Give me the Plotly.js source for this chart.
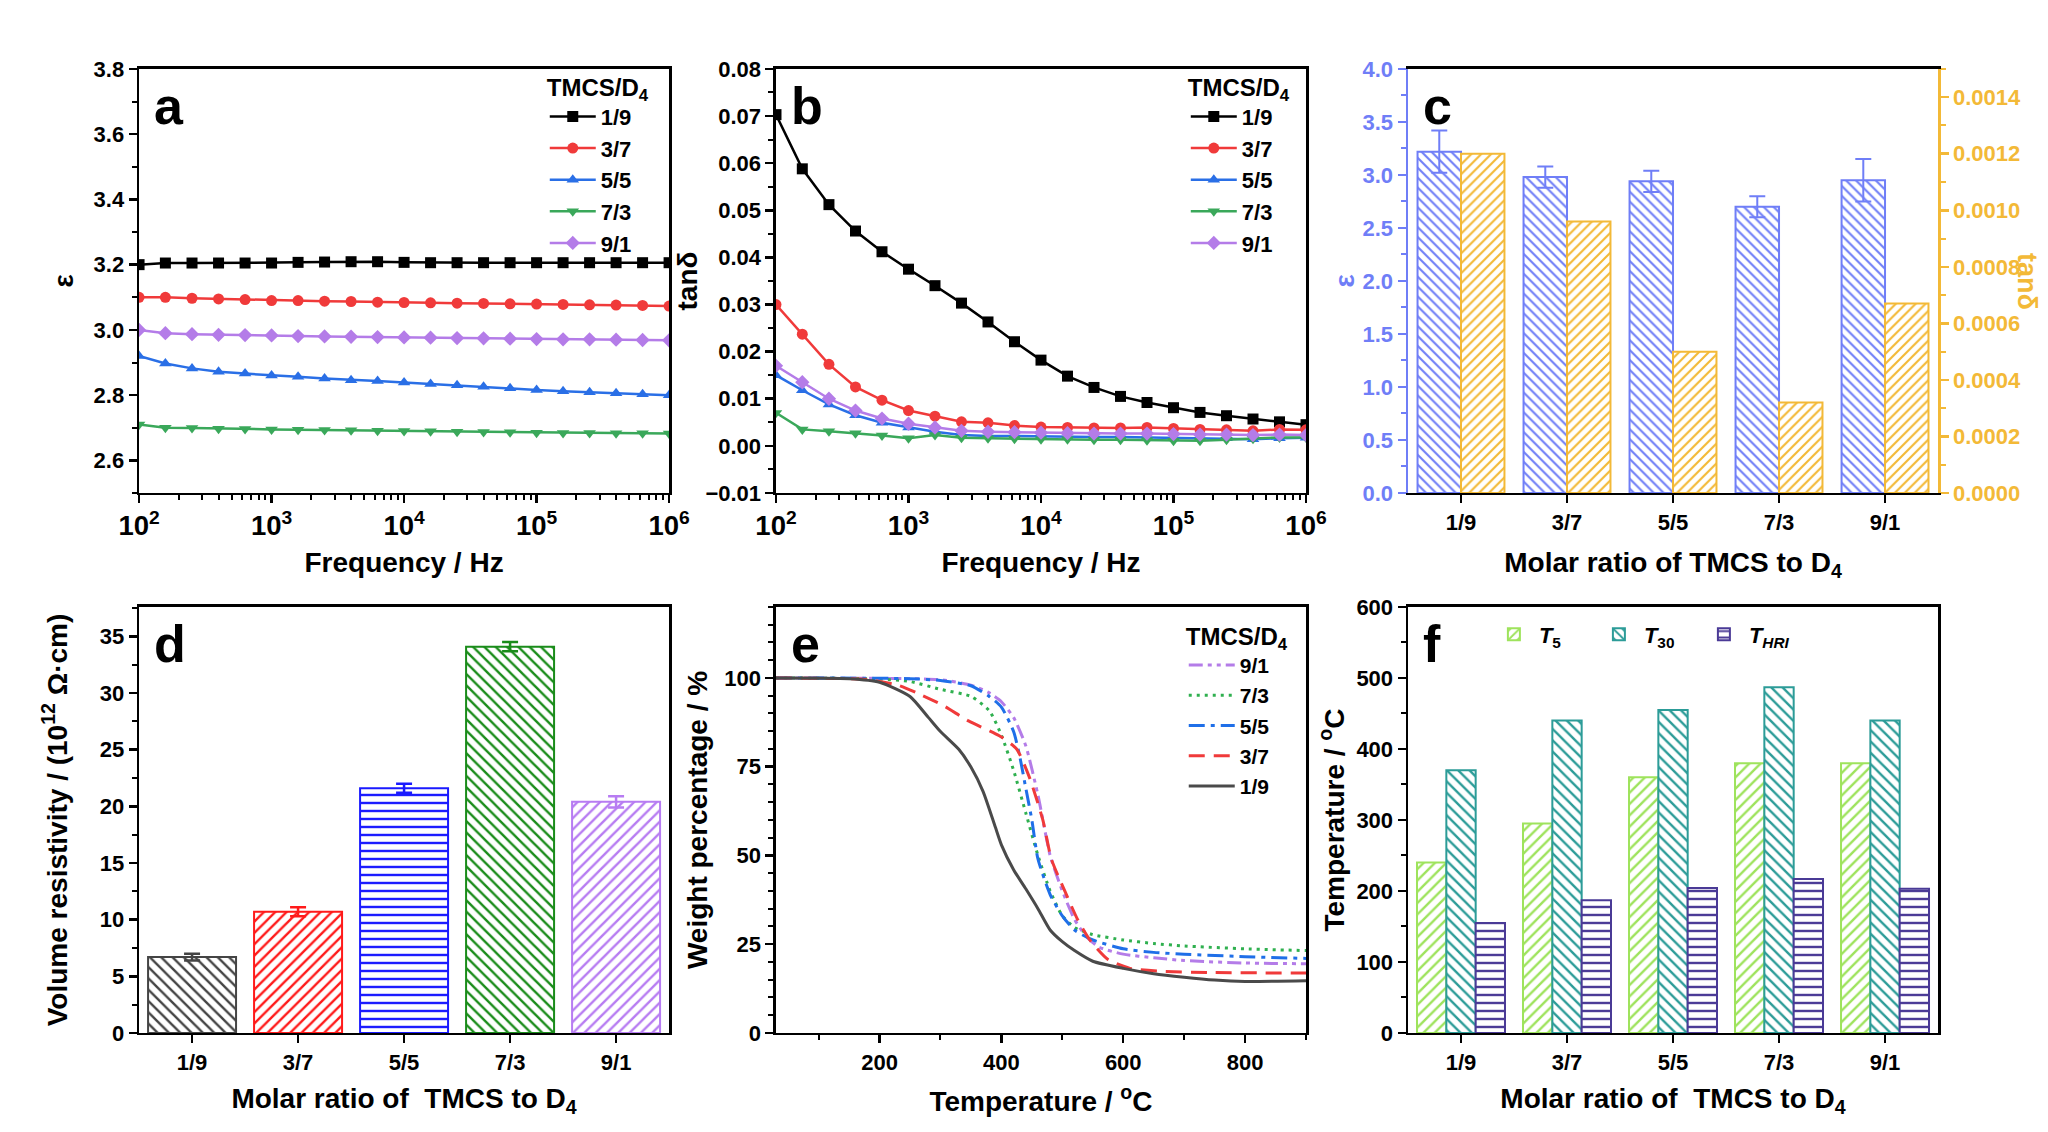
<!DOCTYPE html>
<html>
<head>
<meta charset="utf-8">
<script src="https://cdn.plot.ly/plotly-3.0.1.min.js"></script>
<style>
  html, body { margin: 0; padding: 0; background: #fff; }
  #fig { width: 2048px; height: 1132px; }
</style>
</head>
<body>
<div id="fig"></div>
<script>
// ---- data ----
var ratios = ['1/9', '3/7', '5/5', '7/3', '9/1'];

// a, b: frequency sweep (Hz)
var freq = [100, 158, 251, 398, 631, 1000, 1585, 2512, 3981, 6310, 10000,
            15849, 25119, 39811, 63096, 100000, 158489, 251189, 398107, 630957, 1000000];

var eps19 = [3.200, 3.205, 3.205, 3.205, 3.205, 3.205, 3.207, 3.208, 3.209, 3.209, 3.207,
             3.206, 3.206, 3.206, 3.206, 3.206, 3.206, 3.206, 3.206, 3.206, 3.206];
var eps37 = [3.100, 3.100, 3.097, 3.095, 3.093, 3.090, 3.090, 3.088, 3.087, 3.085, 3.084,
             3.083, 3.082, 3.081, 3.080, 3.079, 3.078, 3.077, 3.076, 3.075, 3.073];
var eps55 = [2.920, 2.897, 2.882, 2.872, 2.866, 2.860, 2.856, 2.851, 2.846, 2.843, 2.839,
             2.834, 2.830, 2.826, 2.821, 2.816, 2.812, 2.809, 2.806, 2.803, 2.800];
var eps73 = [2.710, 2.700, 2.699, 2.697, 2.696, 2.695, 2.694, 2.693, 2.692, 2.691, 2.690,
             2.689, 2.688, 2.687, 2.686, 2.685, 2.684, 2.684, 2.683, 2.683, 2.682];
var eps91 = [3.000, 2.990, 2.987, 2.985, 2.984, 2.983, 2.981, 2.980, 2.979, 2.978, 2.977,
             2.976, 2.975, 2.974, 2.973, 2.972, 2.971, 2.971, 2.970, 2.969, 2.968];

var tan19 = [0.0703, 0.0588, 0.0512, 0.0456, 0.0412, 0.0375, 0.0340, 0.0303, 0.0263, 0.0221, 0.0182,
             0.0148, 0.0124, 0.0105, 0.0092, 0.0081, 0.0071, 0.0064, 0.0057, 0.0051, 0.0045];
var tan37 = [0.0300, 0.0237, 0.0173, 0.0125, 0.0097, 0.0075, 0.0063, 0.0051, 0.0049, 0.0043, 0.0040,
             0.0039, 0.0038, 0.0038, 0.0039, 0.0037, 0.0035, 0.0034, 0.0032, 0.0035, 0.0034];
var tan55 = [0.0150, 0.0118, 0.0088, 0.0065, 0.0049, 0.0039, 0.0030, 0.0023, 0.0021, 0.0021, 0.0020,
             0.0019, 0.0019, 0.0019, 0.0018, 0.0018, 0.0017, 0.0016, 0.0014, 0.0016, 0.0017];
var tan73 = [0.0070, 0.0035, 0.0031, 0.0027, 0.0022, 0.0016, 0.0023, 0.0017, 0.0016, 0.0015, 0.0014,
             0.0014, 0.0013, 0.0013, 0.0012, 0.0011, 0.0011, 0.0013, 0.0015, 0.0018, 0.0018];
var tan91 = [0.0170, 0.0135, 0.0100, 0.0075, 0.0058, 0.0047, 0.0039, 0.0032, 0.0030, 0.0029, 0.0028,
             0.0027, 0.0026, 0.0026, 0.0026, 0.0025, 0.0024, 0.0024, 0.0023, 0.0024, 0.0023];

// c: mean values
var epsMean = [3.22, 2.98, 2.94, 2.70, 2.95];
var epsErr  = [0.20, 0.10, 0.10, 0.10, 0.20];
var tanMean = [0.00120, 0.00096, 0.00050, 0.00032, 0.00067];

// d: volume resistivity (1e12 ohm cm)
var resist    = [6.7, 10.7, 21.6, 34.1, 20.4];
var resistErr = [0.3, 0.4, 0.4, 0.4, 0.5];

// e: TGA
var tT19 = [30, 150, 200, 250, 280, 300, 330, 350, 370, 390, 400, 420, 440, 460, 480, 500, 520, 550, 600, 650, 700, 750, 800, 900];
var wt19 = [100, 99.8, 98.8, 94.8, 88.9, 84.9, 79.9, 74.9, 68, 58, 53, 46, 40.6, 35, 29, 25.7, 23.2, 20.2, 18.2, 16.7, 15.7, 14.9, 14.5, 14.7];
var tT37 = [30, 180, 200, 230, 261, 304, 346, 389, 400, 425, 446, 468, 482, 504, 525, 546, 575, 611, 661, 750, 900];
var wt37 = [100, 99.6, 99, 98, 95.8, 92.3, 87.9, 84.4, 83.4, 80, 72, 60, 49, 40, 32, 26, 20.7, 18.2, 17.4, 17, 16.9];
var tT55 = [30, 250, 300, 350, 380, 400, 420, 430, 440, 450, 460, 480, 500, 520, 550, 600, 650, 700, 800, 900];
var wt55 = [100, 99.8, 99.3, 97.8, 94.8, 91.8, 84.9, 78, 69, 60, 49, 39, 33, 29, 26.2, 23.7, 22.7, 22.2, 21.5, 21];
var tT73 = [30, 200, 250, 300, 350, 380, 400, 420, 440, 460, 480, 500, 520, 550, 600, 650, 700, 800, 900];
var wt73 = [100, 99.7, 99, 96.8, 94.8, 90.8, 83.9, 74, 62, 50, 40, 33, 29.7, 27.7, 26.2, 25.2, 24.5, 23.7, 23.2];
var tT91 = [30, 250, 300, 350, 380, 400, 420, 440, 460, 480, 500, 520, 540, 560, 600, 650, 700, 800, 900];
var wt91 = [100, 99.8, 99.5, 98, 95.8, 93.3, 88.9, 80.9, 67, 50, 40, 32, 27, 24.2, 22.2, 21.2, 20.4, 19.7, 19.5];

// f: characteristic temperatures
var T5   = [240, 295, 360, 380, 380];
var T30  = [370, 440, 455, 487, 440];
var THRI = [155, 187, 204, 217, 203];

// ---- styling ----
var FONT = 'Liberation Sans, Arial, sans-serif';
var tickF = {family: FONT, size: 22, color: '#000', weight: 'bold'};
var titleF = {family: FONT, size: 28, color: '#000', weight: 'bold'};
var legF = {family: FONT, size: 22, color: '#000', weight: 'bold'};
var legTitleF = {family: FONT, size: 24, color: '#000', weight: 'bold'};

var colBlack = '#000000', colRed = '#f03a3a', colBlue = '#2a6fe6',
    colGreen = '#3aa85a', colPurple = '#b47ce8';
var cEps = '#6f7ef7', cTan = '#f3b937';

var dx1 = [0.0679, 0.3267], dx2 = [0.3789, 0.6377], dx3 = [0.6875, 0.9463];
var dyT = [0.5645, 0.9391], dyB = [0.0875, 0.4638];

function axis(o) {
  var base = {
    showline: true, linecolor: '#000', linewidth: 2.5, mirror: true,
    ticks: 'outside', ticklen: 8, tickwidth: 2.5, tickcolor: '#000',
    tickfont: tickF, showgrid: false, zeroline: false, fixedrange: true
  };
  for (var k in o) base[k] = o[k];
  return base;
}

function lineTrace(x, y, name, color, symbol, xa, ya, leg) {
  return {
    type: 'scatter', mode: 'lines+markers', x: x, y: y, name: name,
    xaxis: xa, yaxis: ya, legend: leg,
    line: {color: color, width: 2.5},
    marker: {symbol: symbol, size: 11, color: color},
    cliponaxis: true
  };
}

var data = [];
// a
data.push(lineTrace(freq, eps19, '1/9', colBlack, 'square', 'x', 'y', 'legend'));
data.push(lineTrace(freq, eps37, '3/7', colRed, 'circle', 'x', 'y', 'legend'));
data.push(lineTrace(freq, eps55, '5/5', colBlue, 'triangle-up', 'x', 'y', 'legend'));
data.push(lineTrace(freq, eps73, '7/3', colGreen, 'triangle-down', 'x', 'y', 'legend'));
data.push(lineTrace(freq, eps91, '9/1', colPurple, 'diamond', 'x', 'y', 'legend'));
// b
data.push(lineTrace(freq, tan19, '1/9', colBlack, 'square', 'x2', 'y2', 'legend2'));
data.push(lineTrace(freq, tan37, '3/7', colRed, 'circle', 'x2', 'y2', 'legend2'));
data.push(lineTrace(freq, tan55, '5/5', colBlue, 'triangle-up', 'x2', 'y2', 'legend2'));
data.push(lineTrace(freq, tan73, '7/3', colGreen, 'triangle-down', 'x2', 'y2', 'legend2'));
data.push(lineTrace(freq, tan91, '9/1', colPurple, 'diamond', 'x2', 'y2', 'legend2'));

function patBar(x, y, color, shape, xa, ya, extra, psize) {
  var t = {
    type: 'bar', x: x, y: y, xaxis: xa, yaxis: ya,
    marker: {
      color: '#fff',
      line: {color: color, width: 2},
      pattern: {shape: shape, fgcolor: color, bgcolor: '#fff', fillmode: 'replace',
                size: psize || 9, solidity: 0.3}
    },
    showlegend: false
  };
  for (var k in extra) t[k] = extra[k];
  return t;
}

// c
data.push(patBar(ratios, epsMean, cEps, '\\', 'x3', 'y3', {
  width: 0.41, offset: -0.41,
  error_y: {type: 'data', array: epsErr, color: cEps, thickness: 2, width: 8}
}, 7));
data.push(patBar(ratios, tanMean, cTan, '/', 'x3', 'y7', {width: 0.41, offset: 0}, 7));

// d
var dColors = ['#444444', '#ff1a1a', '#1a1aff', '#1a8c1a', '#b77cf2'];
var dShapes = ['\\', '/', '-', '\\', '/'];
for (var i = 0; i < ratios.length; i++) {
  data.push(patBar([ratios[i]], [resist[i]], dColors[i], dShapes[i], 'x4', 'y4', {
    width: 0.83, offset: -0.415,
    error_y: {type: 'data', array: [resistErr[i]], color: dColors[i], thickness: 2.5, width: 8}
  }, 8));
}

// e (legend order 9/1 first)
function tgaTrace(x, y, name, color, dash) {
  return {type: 'scatter', mode: 'lines', x: x, y: y, name: name, xaxis: 'x5', yaxis: 'y5',
          legend: 'legend3', line: {color: color, width: 3, dash: dash, shape: 'spline', smoothing: 0.6}};
}
data.push(tgaTrace(tT91, wt91, '9/1', '#b47ce8', '14px,5px,4px,5px,4px,5px'));
data.push(tgaTrace(tT73, wt73, '7/3', '#2fb04f', '3px,5px'));
data.push(tgaTrace(tT55, wt55, '5/5', '#1f6fe8', '16px,6px,4px,6px'));
data.push(tgaTrace(tT37, wt37, '3/7', '#f03a3a', '16px,9px'));
data.push(tgaTrace(tT19, wt19, '1/9', '#4a4a4a', 'solid'));

// f
var fSeries = [
  {y: T5, name: '<i>T</i><sub>5</sub>', color: '#9ee35c', shape: '/'},
  {y: T30, name: '<i>T</i><sub>30</sub>', color: '#2c9c98', shape: '\\'},
  {y: THRI, name: '<i>T<sub>HRI</sub></i>', color: '#4a3a96', shape: '-'}
];
fSeries.forEach(function (s) {
  data.push(patBar(ratios, s.y, s.color, s.shape, 'x6', 'y6',
                   {name: s.name, showlegend: true, legend: 'legend4'}, 8));
});

function letter(t, xa, ya) {
  return {text: '<b>' + t + '</b>', xref: xa + ' domain', yref: ya + ' domain', x: 0.025, y: 0.985,
          xanchor: 'left', yanchor: 'top', showarrow: false,
          font: {family: FONT, size: 52, color: '#000', weight: 'bold'}};
}

var legBase = function (x, y, f) {
  return {x: x, y: y, xanchor: 'left', yanchor: 'top', bgcolor: 'rgba(0,0,0,0)',
          font: f || legF, tracegroupgap: 0, itemwidth: 46,
          title: {text: 'TMCS/D<sub>4</sub>', font: legTitleF, side: 'top center'}};
};

var logX = function (dom, anchor) {
  return axis({domain: dom, anchor: anchor, type: 'log', range: [2, 6], dtick: 1,
               exponentformat: 'power', showexponent: 'all',
               minor: {ticks: 'outside', ticklen: 5, tickwidth: 2, tickcolor: '#000'},
               title: {text: 'Frequency / Hz', font: titleF, standoff: 12}});
};

var catX = function (dom, anchor, title, so) {
  return axis({domain: dom, anchor: anchor, type: 'category', range: [-0.5, 4.5],
               title: {text: title, font: titleF, standoff: so}});
};

var layout = {
  width: 2048, height: 1132,
  margin: {l: 0, r: 0, t: 0, b: 0},
  paper_bgcolor: '#fff', plot_bgcolor: '#fff',
  font: {family: FONT, color: '#000'},
  barmode: 'group', bargap: 0.17, bargroupgap: 0,
  xaxis: logX(dx1, 'y'),
  yaxis: axis({domain: dyT, anchor: 'x', range: [2.5, 3.8], tick0: 2.6, dtick: 0.2, tickformat: '.1f',
               minor: {ticks: 'outside', ticklen: 5, tickwidth: 2, dtick: 0.1, tickcolor: '#000'},
               title: {text: 'ε', font: titleF, standoff: 12}}),
  xaxis2: logX(dx2, 'y2'),
  yaxis2: axis({domain: dyT, anchor: 'x2', range: [-0.01, 0.08], dtick: 0.01, tickformat: '.2f',
                minor: {ticks: 'outside', ticklen: 5, tickwidth: 2, dtick: 0.005, tickcolor: '#000'},
                title: {text: 'tanδ', font: titleF, standoff: 0}}),
  xaxis3: catX(dx3, 'y3', 'Molar ratio of TMCS to D<sub>4</sub>', 19),
  yaxis3: axis({domain: dyT, anchor: 'x3', range: [0, 4], dtick: 0.5, tickformat: '.1f', mirror: false,
                linecolor: cEps, tickcolor: cEps, tickfont: {family: FONT, size: 22, color: cEps, weight: 'bold'},
                minor: {ticks: 'outside', ticklen: 5, tickwidth: 2, dtick: 0.25, tickcolor: cEps},
                title: {text: 'ε', font: {family: FONT, size: 28, color: cEps, weight: 'bold'}, standoff: 0}}),
  yaxis7: axis({domain: dyT, anchor: 'x3', overlaying: 'y3', side: 'right', range: [0, 0.0015], dtick: 0.0002,
                tickformat: '.4f', mirror: false,
                linecolor: cTan, tickcolor: cTan, tickfont: {family: FONT, size: 22, color: cTan, weight: 'bold'},
                minor: {ticks: 'outside', ticklen: 5, tickwidth: 2, dtick: 0.0001, tickcolor: cTan}}),
  xaxis4: catX(dx1, 'y4', 'Molar ratio of  TMCS to D<sub>4</sub>', 15),
  yaxis4: axis({domain: dyB, anchor: 'x4', range: [0, 37.6], dtick: 5,
                minor: {ticks: 'outside', ticklen: 5, tickwidth: 2, dtick: 2.5, tickcolor: '#000'},
                title: {text: 'Volume resistivity / (10<sup>12</sup> Ω·cm)', font: titleF, standoff: 24}}),
  xaxis5: axis({domain: dx2, anchor: 'y5', range: [30, 900], tickvals: [200, 400, 600, 800],
                minor: {ticks: 'outside', ticklen: 5, tickwidth: 2, dtick: 100, tickcolor: '#000'},
                title: {text: 'Temperature / <sup>o</sup>C', font: titleF, standoff: 18}}),
  yaxis5: axis({domain: dyB, anchor: 'x5', range: [0, 120], tickvals: [0, 25, 50, 75, 100],
                minor: {ticks: 'outside', ticklen: 5, tickwidth: 2, dtick: 5, tickcolor: '#000'},
                title: {text: 'Weight percentage / %', font: titleF, standoff: 9}}),
  xaxis6: catX(dx3, 'y6', 'Molar ratio of  TMCS to D<sub>4</sub>', 15),
  yaxis6: axis({domain: dyB, anchor: 'x6', range: [0, 600], dtick: 100,
                minor: {ticks: 'outside', ticklen: 5, tickwidth: 2, dtick: 50, tickcolor: '#000'},
                title: {text: 'Temperature / <sup>o</sup>C', font: titleF, standoff: 4}}),
  legend: legBase(0.266, 0.943),
  legend2: legBase(0.579, 0.943),
  legend3: legBase(0.578, 0.458, {family: FONT, size: 21, color: '#000', weight: 'bold'}),
  legend4: {x: 0.727, y: 0.458, xanchor: 'left', yanchor: 'top', orientation: 'h',
            bgcolor: 'rgba(0,0,0,0)', font: legF, itemwidth: 40,
            entrywidth: 50, entrywidthmode: 'pixels'},
  annotations: [
    letter('a', 'x', 'y'), letter('b', 'x2', 'y2'), letter('c', 'x3', 'y3'),
    letter('d', 'x4', 'y4'), letter('e', 'x5', 'y5'), letter('f', 'x6', 'y6'),
    {text: '<b>tanδ</b>', xref: 'x3 domain', yref: 'y3 domain', x: 1.168, y: 0.5,
     xanchor: 'center', yanchor: 'middle',
     textangle: 90, showarrow: false, font: {family: FONT, size: 27, color: cTan, weight: 'bold'}}
  ]
};

Plotly.newPlot('fig', data, layout, {staticPlot: true});
</script>
</body>
</html>
